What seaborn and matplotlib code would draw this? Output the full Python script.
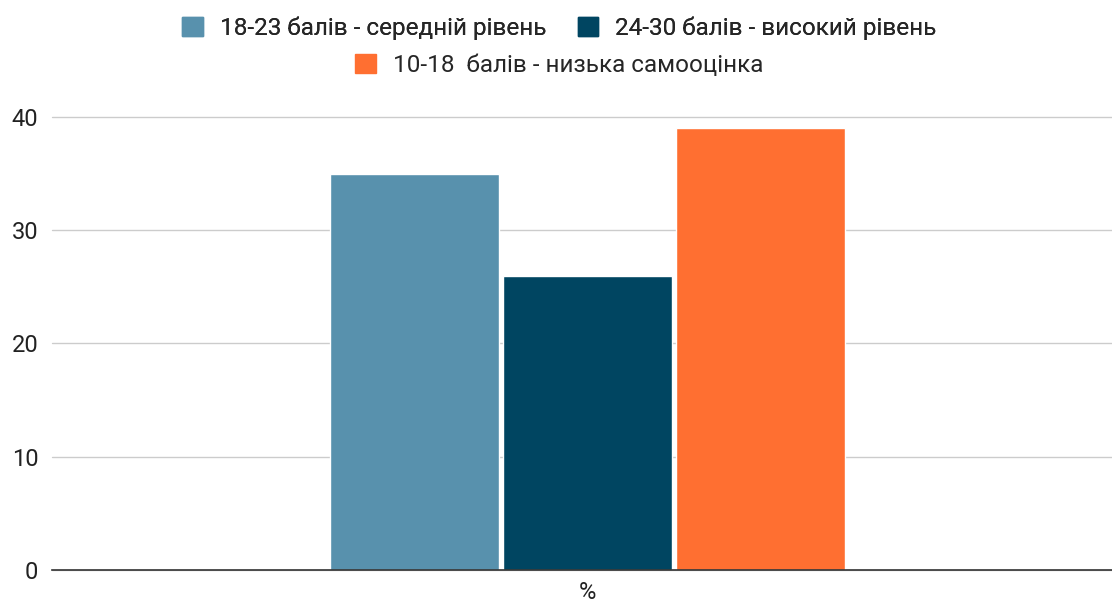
import pandas as pd
import matplotlib.pyplot as plt
import matplotlib.patches as mpatches
import seaborn as sns

# data
groups = ["18-23 балів - середній рівень", "24-30 балів - високий рівень", "10-18  балів - низька самооцінка"]
values = [35, 26, 39]
category = ["%", "%", "%"]
colors = ["#5891AD", "#004561", "#FF6F31"]

df = pd.DataFrame({"cat": category, "group": groups, "value": values})

sns.set_style("white")
plt.rcParams['font.family'] = ['Roboto', 'DejaVu Sans']

fig = plt.figure(figsize=(11.12, 6.03), dpi=100)
ax = fig.add_axes([0.047, 0.0547, 0.953, 0.7513])

sns.barplot(data=df, x="cat", y="value", hue="group", palette=colors,
            width=0.49, gap=0.02, legend=False, ax=ax, saturation=1)

ax.set_xlim(-0.505, 0.495)
ax.set_ylim(0, 40)
ax.set_yticks([0, 10, 20, 30, 40])
ax.yaxis.grid(True, color="#cccccc", linewidth=1)
for line in ax.get_ygridlines():
    line.set_clip_on(False)
ax.set_axisbelow(True)
ax.set_xlabel("")
ax.set_ylabel("")
for s in ["top", "right", "left"]:
    ax.spines[s].set_visible(False)
ax.spines["bottom"].set_color("#333333")
ax.spines["bottom"].set_linewidth(1.2)
ax.tick_params(axis="both", length=0, labelsize=17, colors="#222222")
ax.tick_params(axis="y", pad=10)
ax.tick_params(axis="x", pad=8)

# legend: two rows
h = [mpatches.Patch(color=c) for c in colors]
leg1 = fig.legend(h[:2], groups[:2], loc="center", bbox_to_anchor=(0.503, 0.953), ncol=2,
                  frameon=False, fontsize=17.5, handlelength=0.85, handleheight=0.85,
                  handletextpad=0.7, columnspacing=1.3)
leg2 = fig.legend(h[2:], groups[2:], loc="center", bbox_to_anchor=(0.503, 0.892),
                  frameon=False, fontsize=17.5, handlelength=0.85, handleheight=0.85,
                  handletextpad=0.7)
fig.add_artist(leg1)

plt.savefig("out.png", dpi=100)
